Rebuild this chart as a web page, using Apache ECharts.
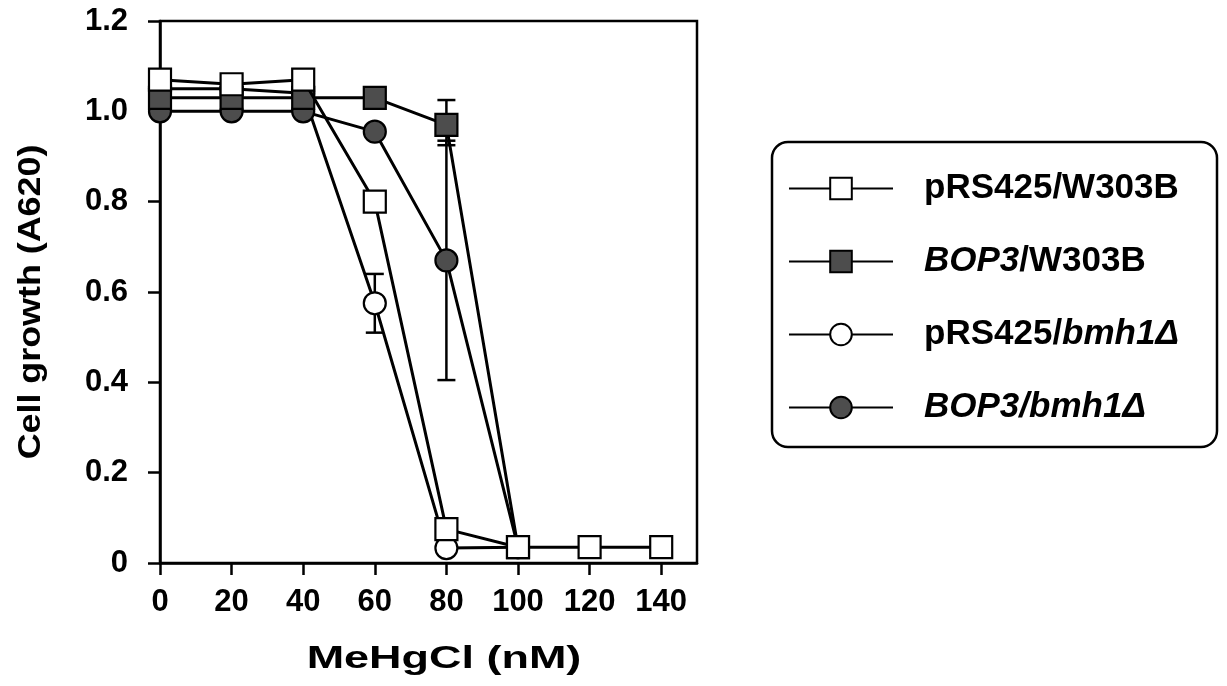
<!DOCTYPE html>
<html>
<head>
<meta charset="utf-8">
<script src="https://cdn.jsdelivr.net/npm/echarts@6/dist/echarts.min.js"></script>
<style>
    html, body { margin: 0; padding: 0; background: #fff; }
    #chartDiv { width: 1227px; height: 686px; }
</style>
</head>
<body>
<div id="chartDiv"></div>
<script>
    // MeHgCl concentration (nM)
    var doses = [0, 20, 40, 60, 80, 100, 120, 140];
    var xTicks = [0, 20, 40, 60, 80, 100, 120, 140];
    var yTicks = [0, 0.2, 0.4, 0.6, 0.8, 1.0, 1.2];

    // cell growth (A620) for each strain
    var pRS425W303B = [1.07, 1.06, 1.07, 0.80, 0.075, 0.035, 0.035, 0.035];
    var bop3W303B = [1.03, 1.03, 1.03, 1.03, 0.97, 0.035];
    var pRS425Bmh1 = [1.05, 1.05, 1.04, 0.575, 0.033, 0.035];
    var bop3Bmh1 = [1.00, 1.00, 1.00, 0.955, 0.67, 0.035];

    // error bars: dose, low, high
    var errBars = [
        [60, 0.51, 0.64],
        [80, 0.925, 1.025],
        [80, 0.405, 0.935]
    ];

    var legendNames = ['pRS425/W303B', 'BOP3/W303B', 'pRS425/bmh1Δ', 'BOP3/bmh1Δ'];
    var legendText = {
        'pRS425/W303B': 'pRS425/W303B',
        'BOP3/W303B': '{i|BOP3}/W303B',
        'pRS425/bmh1Δ': 'pRS425/{i|bmh1Δ}',
        'BOP3/bmh1Δ': '{i|BOP3/bmh1Δ}'
    };

    var FONT = '"Liberation Sans", Arial, Helvetica, sans-serif';

    function pair(ys) {
        return ys.map(function (y, i) { return [doses[i], y]; });
    }

    function lineSeries(name, ys, symbol, fill, z) {
        return {
            name: name,
            type: 'line',
            data: pair(ys),
            symbol: symbol,
            symbolSize: 22,
            z: z,
            lineStyle: { color: '#000', width: 3 },
            itemStyle: { color: fill, borderColor: '#000', borderWidth: 2.2 },
            emphasis: { disabled: true }
        };
    }

    var chart = echarts.init(document.getElementById('chartDiv'));
    chart.setOption({
        animation: false,
        backgroundColor: '#fff',
        grid: {
            left: 160, right: 530, top: 21, bottom: 123,
            show: true, borderColor: '#000', borderWidth: 2.5
        },
        xAxis: {
            type: 'value', min: 0, max: 150, interval: 20,
            axisLine: { lineStyle: { color: '#000', width: 2.5 } },
            axisTick: { inside: false, length: 12, customValues: xTicks, lineStyle: { color: '#000', width: 2.5 } },
            axisLabel: {
                customValues: xTicks, margin: 24, color: '#000',
                fontFamily: FONT, fontSize: 31, fontWeight: 'bold'
            },
            splitLine: { show: false }
        },
        yAxis: {
            type: 'value', min: 0, max: 1.2, interval: 0.2,
            axisLine: { lineStyle: { color: '#000', width: 2.5 } },
            axisTick: { inside: false, length: 12, customValues: yTicks, lineStyle: { color: '#000', width: 2.5 } },
            axisLabel: {
                customValues: yTicks, margin: 32, color: '#000',
                fontFamily: FONT, fontSize: 31, fontWeight: 'bold',
                formatter: function (v) { return v === 0 ? '0' : v.toFixed(1); }
            },
            splitLine: { show: false }
        },
        legend: {
            data: legendNames,
            orient: 'vertical',
            left: 788, top: 171,
            itemWidth: 104, itemHeight: 27, itemGap: 38,
            padding: 0,
            selectedMode: false,
            formatter: function (n) { return legendText[n]; },
            textStyle: {
                color: '#000', fontFamily: FONT, fontSize: 35, fontWeight: 'bold',
                lineHeight: 34, padding: [0, 0, 0, 26],
                rich: {
                    i: { fontFamily: FONT, fontSize: 35, fontWeight: 'bold', fontStyle: 'italic', lineHeight: 34 }
                }
            }
        },
        graphic: [
            {
                type: 'rect',
                shape: { x: 772, y: 142, width: 445, height: 305, r: 16 },
                style: { fill: 'none', stroke: '#000', lineWidth: 2.5 }
            },
            {
                type: 'text', x: 444, y: 659, scaleX: 1.45,
                style: {
                    text: 'MeHgCl (nM)', fill: '#000',
                    font: 'bold 31px ' + FONT,
                    textAlign: 'center', textVerticalAlign: 'middle',
                    align: 'center', verticalAlign: 'middle'
                }
            },
            {
                type: 'text', x: 31, y: 302, rotation: Math.PI / 2, scaleX: 1.12,
                style: {
                    text: 'Cell growth (A620)', fill: '#000',
                    font: 'bold 32px ' + FONT,
                    textAlign: 'center', textVerticalAlign: 'middle',
                    align: 'center', verticalAlign: 'middle'
                }
            }
        ],
        series: [
            {
                type: 'custom',
                data: errBars,
                z: 2,
                silent: true,
                encode: { x: 0, y: [1, 2] },
                renderItem: function (params, api) {
                    var x = api.value(0);
                    var lo = api.coord([x, api.value(1)]);
                    var hi = api.coord([x, api.value(2)]);
                    var w = 9;
                    var st = { stroke: '#000', lineWidth: 2.5 };
                    return {
                        type: 'group',
                        children: [
                            { type: 'line', shape: { x1: lo[0], y1: lo[1], x2: hi[0], y2: hi[1] }, style: st },
                            { type: 'line', shape: { x1: lo[0] - w, y1: lo[1], x2: lo[0] + w, y2: lo[1] }, style: st },
                            { type: 'line', shape: { x1: hi[0] - w, y1: hi[1], x2: hi[0] + w, y2: hi[1] }, style: st }
                        ]
                    };
                }
            },
            lineSeries('pRS425/bmh1Δ', pRS425Bmh1, 'circle', '#fff', 3),
            lineSeries('BOP3/bmh1Δ', bop3Bmh1, 'circle', '#4d4d4d', 4),
            lineSeries('BOP3/W303B', bop3W303B, 'rect', '#4d4d4d', 5),
            lineSeries('pRS425/W303B', pRS425W303B, 'rect', '#fff', 6)
        ]
    });
</script>
</body>
</html>
